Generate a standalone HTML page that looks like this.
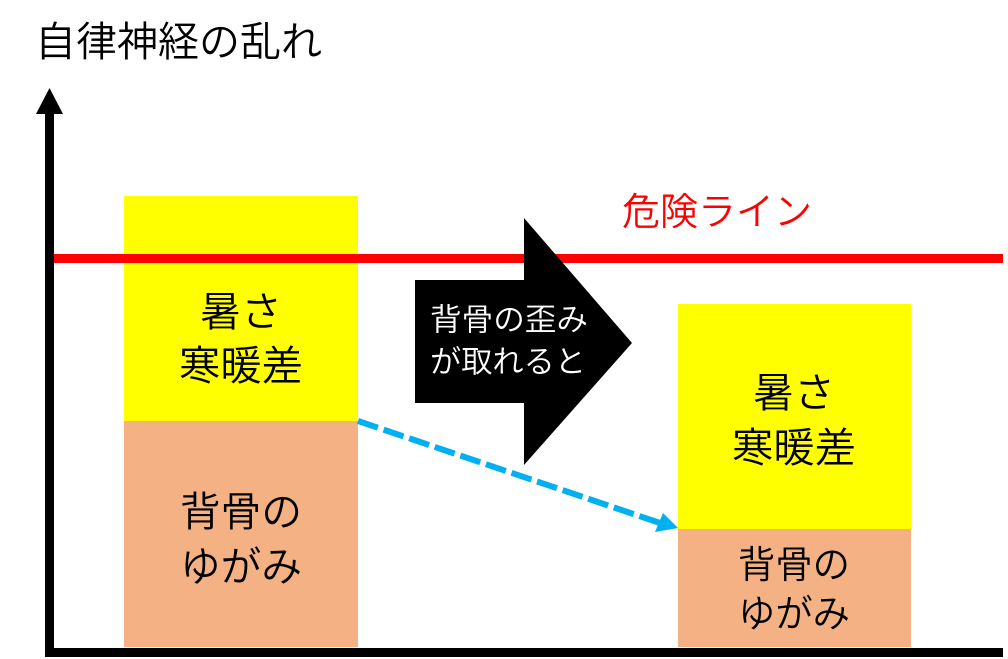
<!DOCTYPE html>
<html>
<head>
<meta charset="utf-8">
<style>
  html, body { margin: 0; padding: 0; background: #fff; }
  body { width: 1008px; height: 659px; overflow: hidden; }
  svg { display: block; }
  text { font-family: "Liberation Sans", "Noto Sans CJK JP", sans-serif; font-weight: 350; }
</style>
</head>
<body>
<svg width="1008" height="659" viewBox="0 0 1008 659" xmlns="http://www.w3.org/2000/svg">
  <!-- title -->
  <text x="35" y="42" font-size="41" fill="#000" dominant-baseline="central" textLength="287" lengthAdjust="spacingAndGlyphs">自律神経の乱れ</text>

  <!-- left bar -->
  <rect x="124" y="196" width="234" height="225" fill="#FFFF00"/>
  <rect x="124" y="421" width="234" height="226" fill="#F4B183"/>

  <!-- right bar -->
  <rect x="678" y="304" width="233" height="225" fill="#FFFF00"/>
  <rect x="678" y="529" width="233" height="118" fill="#F4B183"/>

  <!-- red danger line -->
  <rect x="52" y="254" width="951" height="9" fill="#FF0000"/>
  <text x="622" y="213" font-size="38" fill="#FF0000" dominant-baseline="central" textLength="190" lengthAdjust="spacingAndGlyphs">危険ライン</text>

  <!-- big black arrow -->
  <polygon points="415,280 524,280 524,218 632,343 524,465 524,403 415,403" fill="#000"/>
  <text x="430" y="320" font-size="31" fill="#fff" dominant-baseline="central" textLength="158" lengthAdjust="spacingAndGlyphs">背骨の歪み</text>
  <text x="430" y="362" font-size="31" fill="#fff" dominant-baseline="central" textLength="156" lengthAdjust="spacingAndGlyphs">が取れると</text>

  <!-- axes -->
  <rect x="45" y="110" width="9" height="547" fill="#000"/>
  <polygon points="49.5,88 63,114 36,114" fill="#000"/>
  <rect x="45" y="648" width="958" height="9" fill="#000"/>

  <!-- dashed blue arrow -->
  <line x1="358" y1="421" x2="660" y2="523" stroke="#00B0F0" stroke-width="6" stroke-dasharray="21 6"/>
  <polygon points="678,528 655,532 663,513" fill="#00B0F0"/>

  <!-- left labels -->
  <text x="241" y="312" font-size="41" fill="#000" text-anchor="middle" dominant-baseline="central">暑さ</text>
  <text x="241" y="366" font-size="41" fill="#000" text-anchor="middle" dominant-baseline="central" textLength="124" lengthAdjust="spacingAndGlyphs">寒暖差</text>
  <text x="241" y="512" font-size="41" fill="#000" text-anchor="middle" dominant-baseline="central" textLength="122" lengthAdjust="spacingAndGlyphs">背骨の</text>
  <text x="241" y="567" font-size="41" fill="#000" text-anchor="middle" dominant-baseline="central" textLength="122" lengthAdjust="spacingAndGlyphs">ゆがみ</text>

  <!-- right labels -->
  <text x="794" y="393" font-size="41" fill="#000" text-anchor="middle" dominant-baseline="central">暑さ</text>
  <text x="794" y="448" font-size="41" fill="#000" text-anchor="middle" dominant-baseline="central" textLength="124" lengthAdjust="spacingAndGlyphs">寒暖差</text>
  <text x="794" y="566" font-size="38" fill="#000" text-anchor="middle" dominant-baseline="central" textLength="112" lengthAdjust="spacingAndGlyphs">背骨の</text>
  <text x="794" y="615" font-size="38" fill="#000" text-anchor="middle" dominant-baseline="central" textLength="112" lengthAdjust="spacingAndGlyphs">ゆがみ</text>
</svg>
</body>
</html>
